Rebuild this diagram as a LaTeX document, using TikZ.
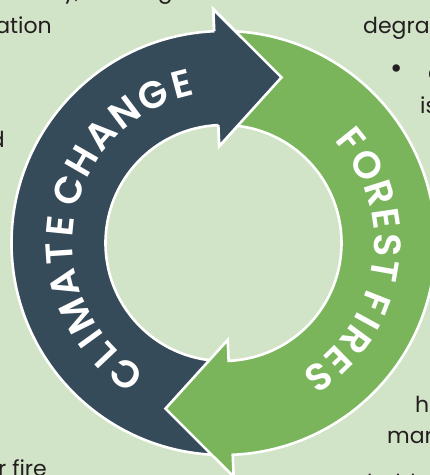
\documentclass[tikz,border=0pt]{standalone}
\usepackage{fontspec}
\setmainfont{Poppins}
\IfFontExistsTF{Poppins SemiBold}
  {\newfontfamily\ringfont{Poppins SemiBold}\let\ringweight\relax}
  {\newfontfamily\ringfont{Poppins}\let\ringweight\bfseries}
\newcommand\ringtxt{\ringfont\ringweight\fontsize{38pt}{38pt}\selectfont}
\newcommand\fragtxt{\fontsize{22pt}{26pt}\selectfont}
\definecolor{bg}{HTML}{D2E4C7}
\definecolor{darkc}{HTML}{364B59}
\definecolor{greenc}{HTML}{7AB55C}
\definecolor{txt}{HTML}{231F20}
\begin{document}
\begin{tikzpicture}[x=1pt,y=1pt,
  ring/.style={draw=white,line width=2.6pt,line join=miter},
  frag/.style={inner sep=0pt,text=txt,font=\fragtxt},
  ringletter/.style={inner sep=0pt,text=white,anchor=center}]
\useasboundingbox (-223.5,-232) rectangle (206.5,243);
\clip (-223.5,-232) rectangle (206.5,243);
\fill[bg] (-223.5,-232) rectangle (206.5,243);
% cropped body text
\node[frag,anchor=base east] (t1) at (-143.5,245) {ly,};
\node[frag,anchor=base east] (t2) at (-50.5,245) {among};
\node[frag,anchor=base east] (t3) at (-171.5,210) {ation};
\node[frag,anchor=base east] (t4) at (-218.5,96) {d};
\node[frag,anchor=base east] (t5) at (-176.5,-233) {r fire};
\node[frag,anchor=base west] (t6) at (139.5,210) {degradation};
\node[frag,anchor=center,font=\fontsize{30pt}{30pt}\selectfont] (t7) at (173.5,171) {\textbullet};
\node[frag,anchor=base west] (t8) at (204.5,163) {c};
\node[frag,anchor=base west] (t9) at (196.5,130) {is};
\node[frag,anchor=base west] (t10) at (191.5,-169) {h};
\node[frag,anchor=base west] (t11) at (163.5,-200) {mar};
\node[frag,anchor=base west] (t12) at (143.5,-247) {hold};
% dark arrow
\path[ring,fill=darkc] (92.5:212) arc[start angle=92.5,end angle=271,radius=212]
  -- (271:118) arc[start angle=271,end angle=92.5,radius=118]
  -- (92.5:97) -- (70.7:175.5) -- (92.5:234) -- cycle;
% green arrow
\path[ring,fill=greenc] (272.5:212) arc[start angle=272.5,end angle=451,radius=212]
  -- (451:118) arc[start angle=451,end angle=272.5,radius=118]
  -- (272.5:97) -- (250.7:175.5) -- (272.5:234) -- cycle;
% dark head on top
\fill[darkc] (92.5:97) -- (70.7:175.5) -- (92.5:234) -- cycle;
\draw[ring] (92.5:118) -- (92.5:97) -- (70.7:175.5) -- (92.5:234) -- (92.5:212);
% ring texts, letter by letter
\foreach \ch/\a [count=\i] in {C/233.3,L/223.35,I/215.9,M/206.4,A/194.3,T/183.8,
    E/174.25,C/161.25,H/150.0,A/138.6,N/127.1,G/115.4,E/104.8}
  \node[ringletter,rotate=\a-90] (cc\i) at (\a:164) {\ringtxt\ch};
\foreach \ch/\a [count=\i] in {F/38.7,O/28.44,R/17.74,E/8.45,S/-0.62,T/-9.79,
    F/-21.47,I/-28.68,R/-36.33,E/-45.62,S/-54.69}
  \node[ringletter,rotate=\a-90] (ff\i) at (\a:164) {\ringtxt\ch};
\end{tikzpicture}
\end{document}
